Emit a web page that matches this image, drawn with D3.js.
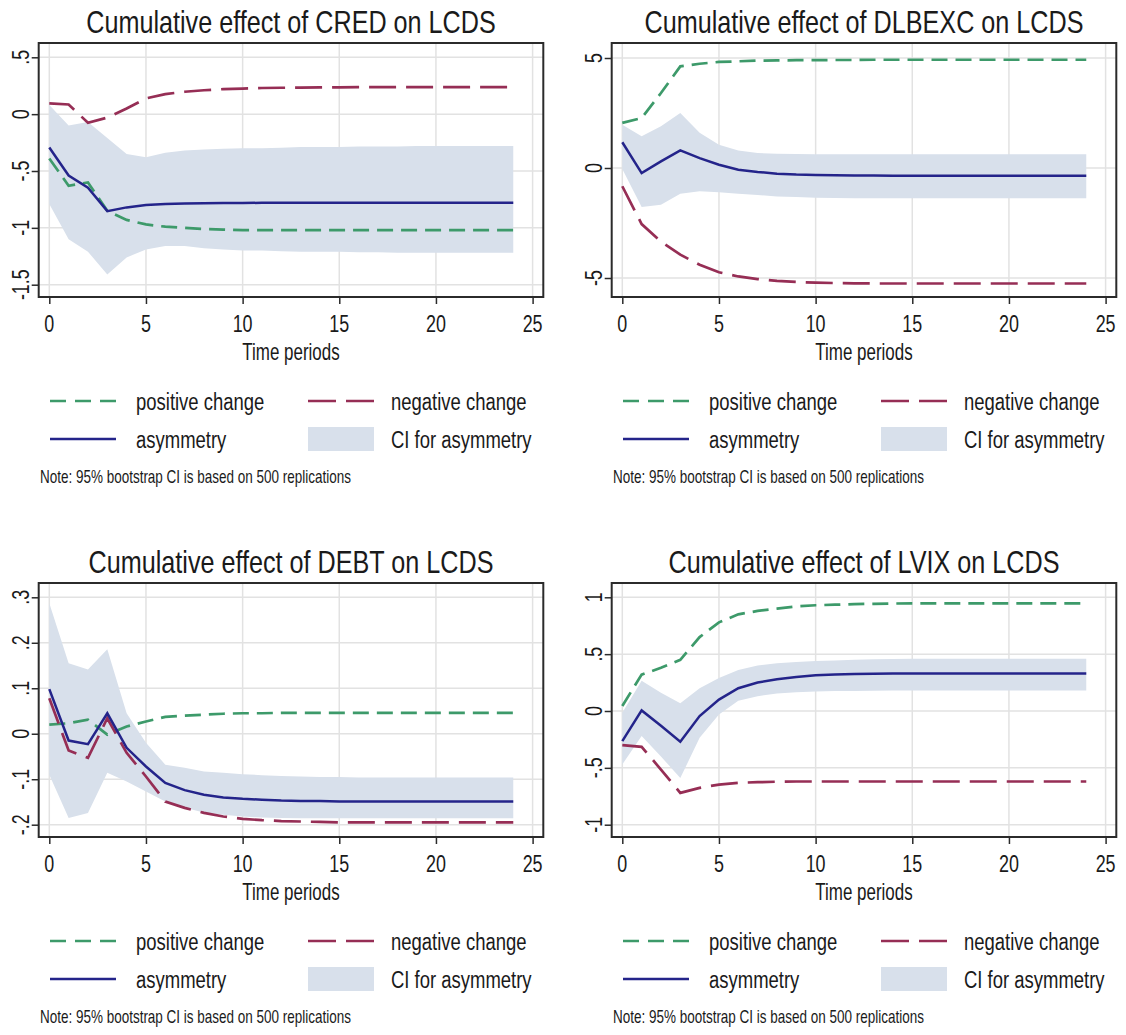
<!DOCTYPE html>
<html><head><meta charset="utf-8">
<script src="https://cdn.jsdelivr.net/npm/d3@7"></script>
<style>html,body{margin:0;padding:0;background:#fff;}svg{display:block;}</style>
</head><body>
<svg id="chart" width="1126" height="1035"></svg>
<script>
// ---------- data ----------
const periods = [0,1,2,3,4,5,6,7,8,9,10,11,12,13,14,15,16,17,18,19,20,21,22,23,24];
const xTicks = [0,5,10,15,20,25];
const xTickLabels = ["0","5","10","15","20","25"];

const titles = ["Cumulative effect of CRED on LCDS","Cumulative effect of DLBEXC on LCDS",
                "Cumulative effect of DEBT on LCDS","Cumulative effect of LVIX on LCDS"];

// CRED
const credPos  = [-0.39,-0.63,-0.60,-0.85,-0.93,-0.97,-0.99,-1.00,-1.01,-1.015,-1.02,-1.02,-1.02,-1.02,-1.02,-1.02,-1.02,-1.02,-1.02,-1.02,-1.02,-1.02,-1.02,-1.02,-1.02];
const credNeg  = [0.094,0.085,-0.076,-0.03,0.05,0.138,0.176,0.197,0.21,0.22,0.225,0.23,0.232,0.234,0.235,0.236,0.237,0.237,0.238,0.238,0.238,0.238,0.238,0.238,0.238];
const credAsym = [-0.294,-0.54,-0.647,-0.853,-0.82,-0.80,-0.79,-0.785,-0.783,-0.782,-0.781,-0.78,-0.78,-0.78,-0.78,-0.78,-0.78,-0.78,-0.78,-0.78,-0.78,-0.78,-0.78,-0.78,-0.78];
const credCiU  = [0.08,-0.10,-0.07,-0.21,-0.35,-0.38,-0.34,-0.32,-0.31,-0.305,-0.30,-0.30,-0.295,-0.29,-0.29,-0.29,-0.285,-0.285,-0.285,-0.28,-0.28,-0.28,-0.28,-0.28,-0.28];
const credCiL  = [-0.79,-1.10,-1.21,-1.41,-1.26,-1.19,-1.16,-1.16,-1.18,-1.19,-1.20,-1.20,-1.205,-1.21,-1.21,-1.21,-1.215,-1.215,-1.22,-1.22,-1.22,-1.22,-1.22,-1.22,-1.22];
const credYTicks = [-1.5,-1,-0.5,0,0.5];
const credYLabels = ["-1.5","-1","-.5","0",".5"];

// DLBEXC
const dlbPos  = [2.05,2.27,3.41,4.62,4.74,4.82,4.85,4.88,4.89,4.90,4.90,4.91,4.91,4.92,4.92,4.92,4.92,4.92,4.92,4.92,4.92,4.92,4.92,4.92,4.92];
const dlbNeg  = [-0.83,-2.55,-3.35,-3.94,-4.40,-4.74,-4.93,-5.05,-5.13,-5.18,-5.21,-5.23,-5.24,-5.25,-5.25,-5.25,-5.25,-5.25,-5.25,-5.25,-5.25,-5.25,-5.25,-5.25,-5.25];
const dlbAsym = [1.17,-0.23,0.30,0.80,0.45,0.15,-0.08,-0.18,-0.26,-0.30,-0.32,-0.33,-0.34,-0.34,-0.35,-0.35,-0.35,-0.35,-0.35,-0.35,-0.35,-0.35,-0.35,-0.35,-0.35];
const dlbCiU  = [1.97,1.44,1.90,2.50,1.60,1.06,0.80,0.68,0.65,0.64,0.63,0.63,0.63,0.63,0.63,0.63,0.63,0.63,0.63,0.63,0.63,0.63,0.63,0.63,0.63];
const dlbCiL  = [-0.05,-1.77,-1.67,-1.17,-1.06,-1.10,-1.17,-1.23,-1.29,-1.32,-1.35,-1.36,-1.37,-1.38,-1.38,-1.38,-1.38,-1.38,-1.38,-1.38,-1.38,-1.38,-1.38,-1.38,-1.38];
const dlbYTicks = [-5,0,5];
const dlbYLabels = ["-5","0","5"];

// DEBT
const debtPos  = [0.020,0.023,0.031,-0.002,0.016,0.027,0.037,0.040,0.042,0.044,0.045,0.045,0.046,0.046,0.046,0.046,0.046,0.046,0.046,0.046,0.046,0.046,0.046,0.046,0.046];
const debtNeg  = [0.078,-0.037,-0.053,0.034,-0.042,-0.094,-0.149,-0.163,-0.174,-0.182,-0.187,-0.190,-0.192,-0.193,-0.194,-0.195,-0.195,-0.195,-0.195,-0.195,-0.195,-0.195,-0.195,-0.195,-0.195];
const debtAsym = [0.098,-0.015,-0.023,0.045,-0.031,-0.072,-0.108,-0.124,-0.134,-0.140,-0.143,-0.145,-0.147,-0.148,-0.148,-0.149,-0.149,-0.149,-0.149,-0.149,-0.149,-0.149,-0.149,-0.149,-0.149];
const debtCiU  = [0.287,0.155,0.141,0.186,0.045,-0.020,-0.068,-0.075,-0.083,-0.086,-0.089,-0.091,-0.093,-0.094,-0.095,-0.095,-0.096,-0.096,-0.096,-0.096,-0.096,-0.096,-0.096,-0.096,-0.096];
const debtCiL  = [-0.090,-0.185,-0.174,-0.086,-0.105,-0.127,-0.149,-0.163,-0.173,-0.178,-0.182,-0.184,-0.185,-0.186,-0.186,-0.186,-0.186,-0.186,-0.186,-0.186,-0.186,-0.186,-0.186,-0.186,-0.186];
const debtYTicks = [-0.2,-0.1,0,0.1,0.2,0.3];
const debtYLabels = ["-.2","-.1","0",".1",".2",".3"];

// LVIX
const lvixPos  = [0.044,0.32,0.38,0.45,0.65,0.78,0.85,0.88,0.90,0.92,0.93,0.935,0.94,0.943,0.945,0.947,0.947,0.947,0.947,0.947,0.947,0.947,0.947,0.947,0.947];
const lvixNeg  = [-0.30,-0.315,-0.515,-0.72,-0.676,-0.647,-0.632,-0.626,-0.622,-0.62,-0.62,-0.62,-0.62,-0.62,-0.62,-0.62,-0.62,-0.62,-0.62,-0.62,-0.62,-0.62,-0.62,-0.62,-0.62];
const lvixAsym = [-0.265,0.005,-0.13,-0.27,-0.045,0.10,0.20,0.25,0.28,0.30,0.315,0.32,0.325,0.328,0.33,0.33,0.33,0.33,0.33,0.33,0.33,0.33,0.33,0.33,0.33];
const lvixCiU  = [-0.015,0.265,0.16,0.068,0.20,0.29,0.36,0.40,0.42,0.43,0.44,0.445,0.45,0.455,0.458,0.46,0.46,0.46,0.46,0.46,0.46,0.46,0.46,0.46,0.46];
const lvixCiL  = [-0.47,-0.22,-0.40,-0.59,-0.235,-0.03,0.09,0.13,0.155,0.165,0.172,0.175,0.177,0.178,0.18,0.18,0.18,0.18,0.18,0.18,0.18,0.18,0.18,0.18,0.18];
const lvixYTicks = [-1,-0.5,0,0.5,1];
const lvixYLabels = ["-1","-.5","0",".5","1"];

const legendLabels = ["positive change","negative change","asymmetry","CI for asymmetry"];
const noteText = "Note: 95% bootstrap CI is based on 500 replications";

// ---------- style ----------
const COL = {pos:"#3d9a6a", neg:"#962e55", asym:"#24248a", ci:"#d8e0eb", grid:"#e2e2e2", frame:"#2b2b2b", text:"#1a1a1a"};

function hasFont(name){
  const c=document.createElement("canvas").getContext("2d");
  const s="Cumulative effect 0123456789";
  c.font="40px monospace"; const a=c.measureText(s).width;
  c.font="40px '"+name+"', monospace"; const b=c.measureText(s).width;
  return Math.abs(a-b)>0.5;
}
const narrowOK = hasFont("Liberation Sans Narrow");
const FONT = narrowOK ? "'Liberation Sans Narrow'" : "'Liberation Sans', Arial, sans-serif";
const BASE = narrowOK ? 1 : 0.82;

const svg = d3.select("#chart");

function txt(g,x,y,str,size,anchor,rot,sx){
  const k = BASE*(sx||1);
  const gg = g.append("g").attr("transform",`translate(${x},${y})`+(rot?` rotate(${rot})`:"")+` scale(${k},1)`);
  gg.append("text").attr("x",0).attr("y",0).attr("text-anchor",anchor||"start")
    .attr("font-family",FONT).attr("font-size",size).attr("fill",COL.text).text(str);
  return gg;
}

const panels = [
  {title:titles[0], pos:credPos, neg:credNeg, asym:credAsym, ciU:credCiU, ciL:credCiL, yt:credYTicks, yl:credYLabels, ox:0, oy:0},
  {title:titles[1], pos:dlbPos, neg:dlbNeg, asym:dlbAsym, ciU:dlbCiU, ciL:dlbCiL, yt:dlbYTicks, yl:dlbYLabels, ox:573, oy:0, yr:[278,58]},
  {title:titles[2], pos:debtPos, neg:debtNeg, asym:debtAsym, ciU:debtCiU, ciL:debtCiL, yt:debtYTicks, yl:debtYLabels, ox:0, oy:540},
  {title:titles[3], pos:lvixPos, neg:lvixNeg, asym:lvixAsym, ciU:lvixCiU, ciL:lvixCiL, yt:lvixYTicks, yl:lvixYLabels, ox:573, oy:540}
];

panels.forEach(p=>{
  const g = svg.append("g").attr("transform",`translate(${p.ox},${p.oy})`);
  const fL=38.7, fR=543.3, fT=43, fB=297;
  const x = d3.scaleLinear().domain([0,25]).range([49.3,532.6]);
  const yr = p.yr || [284.7,57.3];
  const y = d3.scaleLinear().domain([p.yt[0],p.yt[p.yt.length-1]]).range(yr);

  const grid = g.append("g");
  grid.selectAll(".vg").data(xTicks).join("line")
    .attr("x1",d=>x(d)).attr("x2",d=>x(d)).attr("y1",fT).attr("y2",fB)
    .attr("stroke",COL.grid).attr("stroke-width",1.5);
  grid.selectAll(".hg").data(p.yt).join("line")
    .attr("x1",fL).attr("x2",fR).attr("y1",d=>y(d)).attr("y2",d=>y(d))
    .attr("stroke",COL.grid).attr("stroke-width",1.5);

  const area = d3.area().x((d,i)=>x(periods[i])).y0((d,i)=>y(p.ciL[i])).y1((d,i)=>y(p.ciU[i]));
  g.append("path").datum(p.ciU).attr("d",area).attr("fill",COL.ci).attr("stroke","none");

  const line = arr => d3.line().x((d,i)=>x(periods[i])).y(d=>y(d))(arr);
  g.append("path").attr("d",line(p.pos)).attr("fill","none").attr("stroke",COL.pos)
    .attr("stroke-width",2.7).attr("stroke-dasharray","16,8");
  g.append("path").attr("d",line(p.neg)).attr("fill","none").attr("stroke",COL.neg)
    .attr("stroke-width",2.7).attr("stroke-dasharray","27,10");
  g.append("path").attr("d",line(p.asym)).attr("fill","none").attr("stroke",COL.asym)
    .attr("stroke-width",2.5);

  g.append("rect").attr("x",fL).attr("y",fT).attr("width",fR-fL).attr("height",fB-fT)
    .attr("fill","none").attr("stroke",COL.frame).attr("stroke-width",2);

  const xa = g.append("g").attr("transform",`translate(0,${fB})`)
    .call(d3.axisBottom(x).tickValues(xTicks).tickSize(7).tickFormat(""));
  xa.select(".domain").remove();
  xa.selectAll("line").attr("stroke",COL.frame).attr("stroke-width",1.5);
  const ya = g.append("g").attr("transform",`translate(${fL},0)`)
    .call(d3.axisLeft(y).tickValues(p.yt).tickSize(7).tickFormat(""));
  ya.select(".domain").remove();
  ya.selectAll("line").attr("stroke",COL.frame).attr("stroke-width",1.5);

  xTicks.forEach((t,i)=>txt(g,x(t),332,xTickLabels[i],23.5,"middle",0,0.93));
  p.yt.forEach((t,i)=>txt(g,29,y(t),p.yl[i],23.5,"middle",-90,0.93));

  txt(g,291,33,p.title,32,"middle",0,0.96);
  txt(g,291,360,"Time periods",23.5,"middle",0,0.88);

  const r1=401, r2=439;
  g.append("line").attr("x1",50).attr("x2",116).attr("y1",r1).attr("y2",r1)
    .attr("stroke",COL.pos).attr("stroke-width",2.7).attr("stroke-dasharray","16,9");
  txt(g,136,r1+8.5,legendLabels[0],24.5,"start",0,0.92);
  g.append("line").attr("x1",308).attr("x2",374).attr("y1",r1).attr("y2",r1)
    .attr("stroke",COL.neg).attr("stroke-width",2.7).attr("stroke-dasharray","28,10");
  txt(g,391,r1+8.5,legendLabels[1],24.5,"start",0,0.92);
  g.append("line").attr("x1",50).attr("x2",116).attr("y1",r2).attr("y2",r2)
    .attr("stroke",COL.asym).attr("stroke-width",2.5);
  txt(g,136,r2+8.5,legendLabels[2],24.5,"start",0,0.92);
  g.append("rect").attr("x",308).attr("y",r2-12).attr("width",66).attr("height",24).attr("fill",COL.ci);
  txt(g,391,r2+8.5,legendLabels[3],24.5,"start",0,0.92);

  txt(g,40,483,noteText,17.5,"start",0,0.94);
});
</script>
</body></html>
